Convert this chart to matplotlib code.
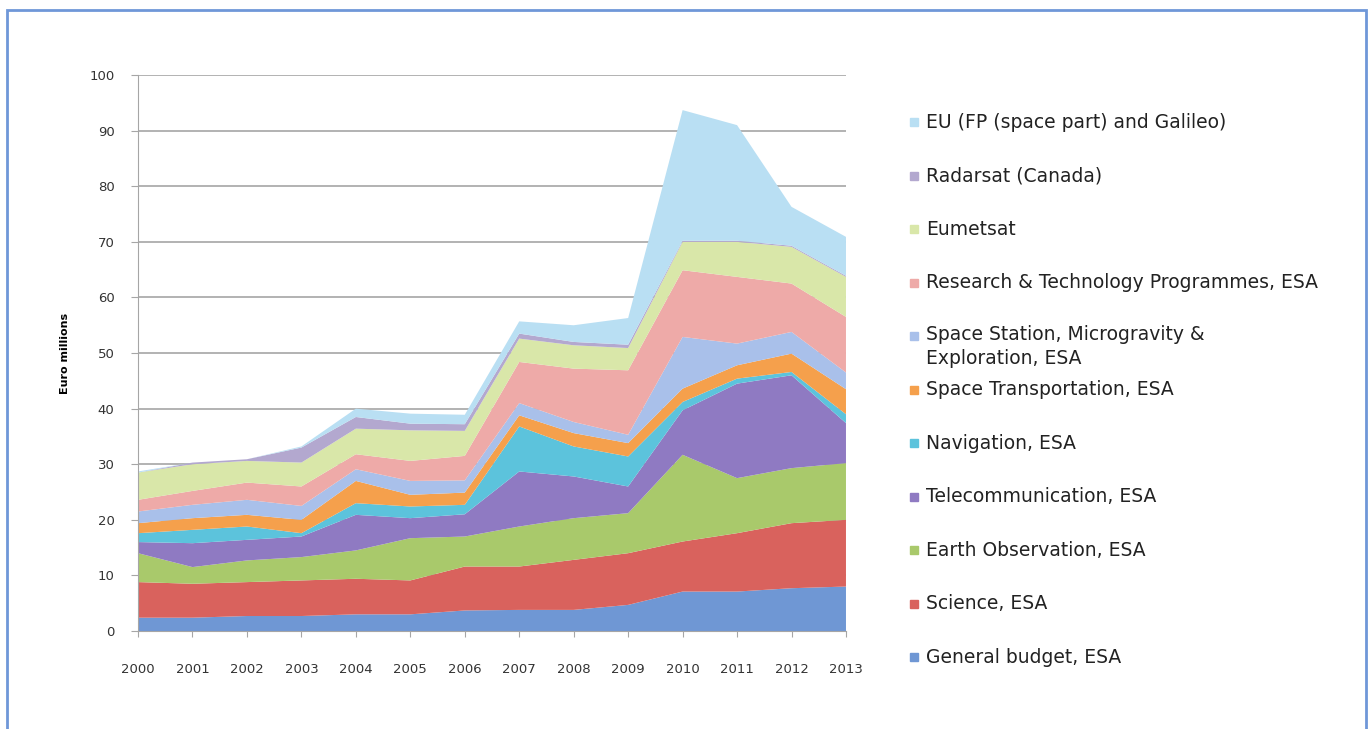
import numpy as np
import matplotlib.pyplot as plt
from matplotlib.patches import Rectangle

plt.rcParams['font.family'] = ['DejaVu Sans']

years = list(range(2000, 2014))

# 各项预算（百万欧元），自下而上堆叠
general_budget = [2.4, 2.4, 2.7, 2.7, 3.0, 3.0, 3.7, 3.8, 3.8, 4.7, 7.1, 7.1, 7.7, 8.0]
science = [6.4, 6.1, 6.1, 6.4, 6.4, 6.1, 7.9, 7.8, 9.0, 9.3, 9.0, 10.5, 11.7, 12.0]
earth_obs = [5.2, 3.0, 3.9, 4.2, 5.1, 7.6, 5.4, 7.2, 7.5, 7.2, 15.6, 9.9, 9.9, 10.2]
telecom = [2.0, 4.3, 3.7, 3.7, 6.4, 3.6, 4.0, 9.9, 7.5, 4.8, 8.0, 17.0, 16.7, 7.2]
navigation = [1.6, 2.4, 2.4, 0.6, 2.1, 2.1, 1.7, 8.1, 5.4, 5.4, 1.5, 0.9, 0.6, 1.6]
space_transport = [1.8, 2.1, 2.1, 2.4, 4.0, 2.1, 2.2, 2.0, 2.4, 2.4, 2.4, 2.4, 3.3, 4.5]
space_station = [2.1, 2.4, 2.7, 2.5, 2.1, 2.5, 2.2, 2.2, 2.0, 1.5, 9.3, 3.9, 3.9, 3.0]
research_tech = [2.1, 2.5, 3.1, 3.5, 2.7, 3.6, 4.4, 7.4, 9.6, 11.6, 12.0, 12.0, 8.7, 10.0]
eumetsat = [4.9, 4.8, 3.9, 4.3, 4.6, 5.5, 4.5, 4.2, 4.2, 4.0, 5.1, 6.3, 6.6, 7.2]
radarsat = [0.0, 0.3, 0.3, 2.7, 2.1, 1.2, 1.2, 0.9, 0.6, 0.6, 0.2, 0.2, 0.2, 0.2]
eu = [0.2, 0.0, 0.0, 0.2, 1.5, 1.8, 1.7, 2.2, 3.0, 4.8, 23.5, 20.8, 7.0, 7.0]

series = [general_budget, science, earth_obs, telecom, navigation, space_transport,
          space_station, research_tech, eumetsat, radarsat, eu]
labels = ['General budget, ESA', 'Science, ESA', 'Earth Observation, ESA',
          'Telecommunication, ESA', 'Navigation, ESA', 'Space Transportation, ESA',
          'Space Station, Microgravity &\nExploration, ESA',
          'Research & Technology Programmes, ESA', 'Eumetsat', 'Radarsat (Canada)',
          'EU (FP (space part) and Galileo)']
colors = ['#6f97d4', '#d9625d', '#a9c96b', '#8f7ac2', '#5cc3dc', '#f5a04c',
          '#a9c0ea', '#eeaaa8', '#d9e7a9', '#b3a8cf', '#b9dff3']

fig = plt.figure(figsize=(13.68, 7.29), dpi=100)
ax = fig.add_axes([0.1009, 0.1344, 0.5175, 0.7626])

ax.stackplot(years, *series, colors=colors, linewidth=0)

ax.set_xlim(2000, 2013)
ax.set_ylim(0, 100)
ax.set_yticks(np.arange(0, 101, 10))
ax.set_xticks(years)
ax.yaxis.grid(True, color='#a6a6a6', linewidth=1.2)
ax.set_axisbelow(True)
for s in ['top', 'right']:
    ax.spines[s].set_visible(False)
ax.spines['left'].set_color('#a6a6a6')
ax.spines['bottom'].set_color('#a6a6a6')
ax.tick_params(axis='x', colors='#a6a6a6', labelcolor='#333333', labelsize=9.5,
               length=4, pad=19)
ax.tick_params(axis='y', colors='#a6a6a6', labelcolor='#333333', labelsize=9.5,
               length=5, pad=12)
ax.set_ylabel('Euro millions', fontsize=8, fontweight='bold', labelpad=14)

# 手动画图例，倒序，等间距
top_y = 1 - 122 / 729
step = 53.5 / 729
for i, idx in enumerate(range(len(series) - 1, -1, -1)):
    y = top_y - i * step
    fig.patches.append(Rectangle((910 / 1368, y - 4 / 729), 8 / 1368, 8 / 729,
                                 transform=fig.transFigure, color=colors[idx]))
    if '\n' in labels[idx]:
        fig.text(926 / 1368, y + 11 / 729, labels[idx], fontsize=13.5, va='top',
                 color='#222222', linespacing=1.3)
    else:
        fig.text(926 / 1368, y, labels[idx], fontsize=13.5, va='center',
                 color='#222222')

# 外框
fig.patches.append(Rectangle((7 / 1368, -0.01), 1359 / 1368, 1 - 10 / 729 + 0.01,
                             transform=fig.transFigure, fill=False,
                             edgecolor='#6f97d8', linewidth=2))

fig.savefig('out.png', dpi=100)
